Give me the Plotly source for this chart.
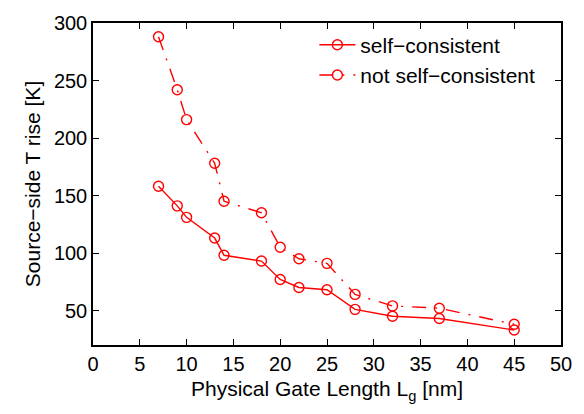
import plotly.graph_objects as go

lg = [7, 9, 10, 13, 14, 18, 20, 22, 25, 28, 32, 37, 45]
self_consistent = [158, 141, 131, 113, 98, 93, 77, 70, 68, 51, 45, 43, 33]
not_self_consistent = [288, 242, 216, 178, 145, 135, 105, 95, 91, 64, 54, 52, 38]
x_ticks = [0, 5, 10, 15, 20, 25, 30, 35, 40, 45, 50]
y_ticks = [50, 100, 150, 200, 250, 300]

FONT = "Liberation Sans, Arial, Helvetica, sans-serif"
red = "#ff0000"
fig = go.Figure()
fig.add_trace(go.Scatter(
    x=lg, y=self_consistent, mode="lines+markers", name="self\u2212consistent",
    line=dict(color=red, width=1.4),
    marker=dict(symbol="circle-open", size=10, color=red, line=dict(width=1.4)),
))
fig.add_trace(go.Scatter(
    x=lg, y=not_self_consistent, mode="lines+markers", name="not self\u2212consistent",
    line=dict(color=red, width=1.4, dash="14px,9px,2px,9px"),
    marker=dict(symbol="circle-open", size=10, color=red, line=dict(width=1.4)),
))

axis_common = dict(
    showline=True, linecolor="black", linewidth=1.5, mirror="ticks",
    ticks="inside", ticklen=6, tickwidth=1.2, tickcolor="black",
    showgrid=False, zeroline=False,
    tickfont=dict(size=20, color="black", family=FONT),
)
fig.update_xaxes(range=[0, 50], tickvals=x_ticks,
                 title=dict(text="Physical Gate Length L<sub>g</sub> [nm]", standoff=8,
                            font=dict(size=21, color="black", family=FONT)),
                 **axis_common)
fig.update_yaxes(range=[20, 300], tickvals=y_ticks,
                 title=dict(text="Source\u2212side T rise [K]", standoff=8,
                            font=dict(size=21, color="black", family=FONT)),
                 **axis_common)
fig.update_layout(
    width=584, height=414,
    margin=dict(l=93, r=21, t=15, b=69),
    paper_bgcolor="white", plot_bgcolor="white",
    font=dict(family=FONT, size=20, color="black"),
    legend=dict(x=0.473, y=0.995, xanchor="left", yanchor="top",
                bgcolor="rgba(0,0,0,0)", font=dict(size=21, family=FONT),
                itemwidth=36, tracegroupgap=0),
)
fig.write_html("out.html")
